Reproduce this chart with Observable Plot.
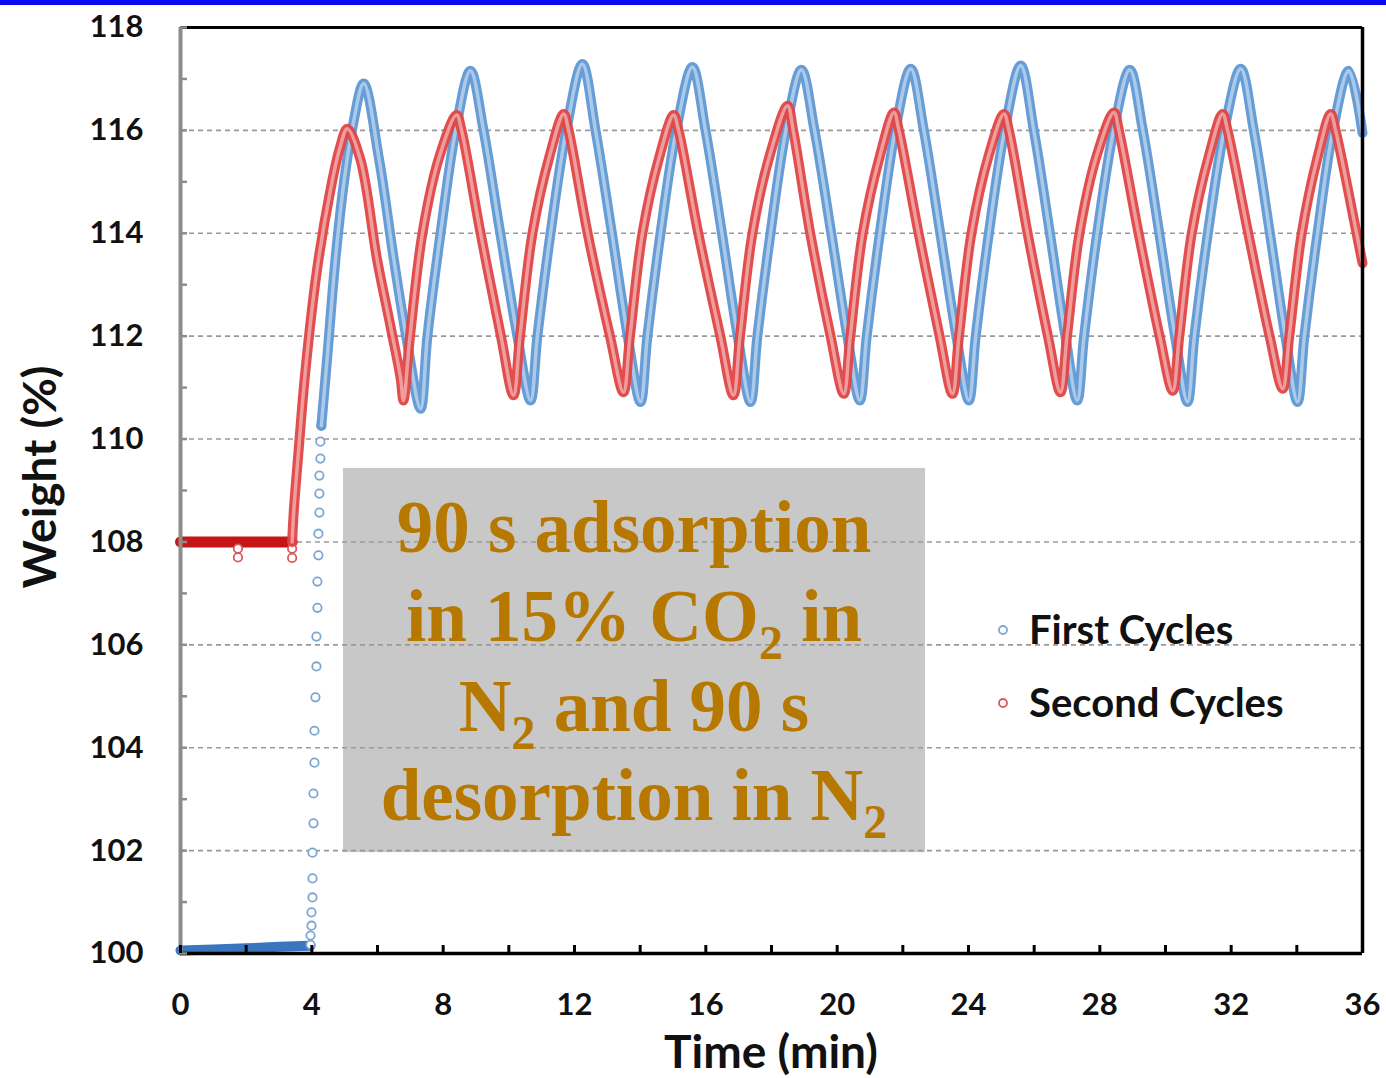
<!DOCTYPE html>
<html><head><meta charset="utf-8">
<script src="https://cdn.jsdelivr.net/npm/d3@7"></script>
<script src="https://cdn.jsdelivr.net/npm/@observablehq/plot@0.6"></script>
<style>
html,body{margin:0;padding:0;background:#fff;}
#wrap{position:relative;width:1386px;height:1078px;overflow:hidden;}
#wrap svg{position:absolute;left:0;top:0;}
#bar{position:absolute;left:0;top:0;width:1386px;height:5px;background:#0a0af0;z-index:2;}
</style></head>
<body><div id="wrap"><div id="bar"></div></div>
<script>
// ---------- data ----------
const seriesNames = ["First Cycles", "Second Cycles"];
const xTicks = [0, 4, 8, 12, 16, 20, 24, 28, 32, 36];
const yTicks = [100, 102, 104, 106, 108, 110, 112, 114, 116, 118];

// First Cycles (blue): initial baseline
const firstFlatT = [0, 1, 2, 3, 3.96];
const firstFlatW = [100.06, 100.08, 100.10, 100.13, 100.15];
// First Cycles: sparse points of the initial jump
const firstJumpT = [3.96,3.96,3.99,3.99,4.02,4.02,4.02,4.05,4.05,4.08,4.08,4.11,4.14,4.14,4.17,4.17,4.20,4.20,4.23,4.23,4.23,4.26,4.26,4.29];
const firstJumpW = [100.17,100.35,100.54,100.80,101.09,101.46,101.96,102.53,103.11,103.71,104.33,104.98,105.58,106.16,106.72,107.23,107.74,108.16,108.57,108.94,109.29,109.62,109.95,110.26];
// First Cycles: cycling part
const firstCycT = [4.29,4.47,4.72,4.98,5.25,5.58,6.05,6.50,6.91,7.31,
  7.52,7.92,8.38,8.83,9.23,9.74,10.26,10.66,
  10.87,11.27,11.75,12.24,12.64,13.14,13.62,14.01,
  14.22,14.62,15.10,15.59,15.99,16.49,16.97,17.36,
  17.57,17.97,18.44,18.91,19.31,19.82,20.31,20.69,
  20.90,21.30,21.77,22.24,22.64,23.14,23.63,24.01,
  24.22,24.62,25.10,25.59,25.99,26.48,26.95,27.31,
  27.52,27.92,28.42,28.91,29.31,29.81,30.29,30.67,
  30.88,31.29,31.79,32.29,32.69,33.18,33.65,34.02,
  34.23,34.63,35.10,35.58,36.00];
const firstCycW = [110.26,111.60,113.50,115.00,116.10,116.91,115.43,113.48,111.86,110.59,
  112.00,114.00,116.00,117.16,116.00,114.00,112.00,110.75,
  112.00,114.00,116.00,117.29,116.00,114.00,112.00,110.72,
  112.00,114.00,116.00,117.23,116.00,114.00,112.00,110.72,
  112.00,114.00,116.00,117.18,116.00,114.00,112.00,110.75,
  112.00,114.00,116.00,117.20,116.00,114.00,112.00,110.75,
  112.00,114.00,116.00,117.26,116.00,114.00,112.00,110.75,
  112.00,114.00,116.00,117.18,116.00,114.00,112.00,110.72,
  112.00,114.00,116.00,117.20,116.00,114.00,112.00,110.72,
  112.00,114.00,116.00,117.16,115.95];

// Second Cycles (red): initial plateau and a few stray points
const secondFlatT = [0, 3.40];
const secondFlatW = [108.00, 108.00];
const secondStrayT = [1.75, 1.75, 3.40, 3.40];
const secondStrayW = [107.87, 107.70, 107.87, 107.69];
// Second Cycles: cycling part
const secondCycT = [3.40,3.45,3.60,3.80,4.16,4.57,4.85,5.08,5.48,5.99,6.40,6.70,6.79,
  6.99,7.37,7.89,8.41,8.56,9.14,9.76,10.14,
  10.34,10.72,11.24,11.67,11.82,12.40,13.08,13.49,
  13.69,14.07,14.59,15.02,15.17,15.77,16.44,16.84,
  17.04,17.42,17.94,18.49,18.66,19.18,19.80,20.20,
  20.40,20.78,21.30,21.73,21.88,22.48,23.12,23.51,
  23.71,24.09,24.61,25.08,25.23,25.80,26.42,26.80,
  27.00,27.38,27.90,28.43,28.58,29.18,29.82,30.22,
  30.42,30.80,31.32,31.74,31.89,32.52,33.17,33.57,
  33.77,34.15,34.64,35.03,35.18,35.82,36.00];
const secondCycW = [108.00,108.60,109.80,111.30,113.30,114.85,115.65,116.03,115.43,113.48,112.18,111.20,110.75,
  112.00,114.00,115.50,116.30,116.00,114.00,112.00,110.85,
  112.00,114.00,115.50,116.32,116.00,114.00,112.00,110.91,
  112.00,114.00,115.50,116.30,116.00,114.00,112.00,110.85,
  112.00,114.00,115.50,116.48,116.00,114.00,112.00,110.88,
  112.00,114.00,115.50,116.35,116.00,114.00,112.00,110.88,
  112.00,114.00,115.50,116.32,116.00,114.00,112.00,110.91,
  112.00,114.00,115.50,116.35,116.00,114.00,112.00,110.94,
  112.00,114.00,115.50,116.32,116.00,114.00,112.00,110.98,
  112.00,114.00,115.50,116.32,116.00,114.00,113.42];

const noteLines = [
  [["90 s adsorption", false]],
  [["in 15% CO", false], ["2", true], [" in", false]],
  [["N", false], ["2", true], [" and 90 s", false]],
  [["desorption in N", false], ["2", true]]
];

// ---------- build tables ----------
const zip = (T, W) => T.map((t, i) => ({t, w: W[i]}));
const firstFlat = zip(firstFlatT, firstFlatW);
const firstJump = zip(firstJumpT, firstJumpW);
const firstCyc = zip(firstCycT, firstCycW);
const secondFlat = zip(secondFlatT, secondFlatW);
const secondStray = zip(secondStrayT, secondStrayW);
const secondCyc = zip(secondCycT, secondCycW);

const BLUE = "#5f98d4", BLUE_DARK = "#3a76bd", BLUE_DOT = "#7ea6d2";
const RED = "#e04545", RED_DARK = "#c51515", RED_DOT = "#d85a5a";
const noteExtent = {x1: 4.965, x2: 22.69, y1: 101.96, y2: 109.43};

const ribbon = (data, color) => [
  Plot.line(data, {x: "t", y: "w", curve: "catmull-rom", stroke: color, strokeWidth: 10, strokeOpacity: 0.95}),
  Plot.line(data, {x: "t", y: "w", curve: "catmull-rom", stroke: "#ffffff", strokeWidth: 3.5, strokeOpacity: 0.45})
];

const chart = Plot.plot({
  width: 1386, height: 1078,
  marginLeft: 180, marginRight: 24, marginTop: 27, marginBottom: 125,
  x: {domain: [0, 36]},
  y: {domain: [100, 118]},
  style: {fontFamily: "Lato, 'Open Sans', sans-serif", background: "transparent", overflow: "visible"},
  marks: [
    Plot.rect([noteExtent], {x1: "x1", x2: "x2", y1: "y1", y2: "y2", fill: "#c8c8c8"}),
    Plot.gridY(yTicks.filter(v => v > 100 && v < 118), {stroke: "#9a9a9a", strokeOpacity: 1, strokeWidth: 1.6, strokeDasharray: "5,4"}),
    // first cycles
    Plot.line(firstFlat, {x: "t", y: "w", stroke: BLUE_DARK, strokeWidth: 10, strokeLinecap: "round"}),
    Plot.dot(firstJump, {x: "t", y: "w", r: 4.2, stroke: BLUE_DOT, strokeWidth: 1.8, fill: "white"}),
    ...ribbon(firstCyc, BLUE),
    // second cycles
    Plot.line(secondFlat, {x: "t", y: "w", stroke: RED_DARK, strokeWidth: 11, strokeLinecap: "round"}),
    Plot.dot(secondStray, {x: "t", y: "w", r: 4.2, stroke: RED_DOT, strokeWidth: 1.8, fill: "white"}),
    ...ribbon(secondCyc, RED),
    // frame
    Plot.ruleY([118], {stroke: "#000", strokeWidth: 3}),
    Plot.ruleX([36], {stroke: "#000", strokeWidth: 3.5}),
    Plot.ruleY([100], {stroke: "#000", strokeWidth: 3.5}),
    Plot.ruleX([0], {stroke: "#8c8c8c", strokeWidth: 4}),
    // inner ticks
    Plot.axisY(d3.range(100, 119, 1), {anchor: "left", tickSize: -7, tickFormat: () => "", stroke: "#8c8c8c", strokeWidth: 2.5, label: null}),
    Plot.axisX(d3.range(0, 37, 2), {anchor: "bottom", tickSize: -8, tickFormat: () => "", stroke: "#000", strokeWidth: 3, label: null}),
    // tick labels
    Plot.axisY(yTicks, {anchor: "left", tickSize: 0, tickPadding: 37, tickFormat: d => String(d), fontSize: 31, fontWeight: "bold", fill: "#111", label: null}),
    Plot.axisX(xTicks, {anchor: "bottom", tickSize: 0, tickPadding: 39, tickFormat: d => String(d), fontSize: 31, fontWeight: "bold", fill: "#111", label: null})
  ]
});

document.getElementById("wrap").appendChild(chart);

// ---------- annotation, legend and axis titles ----------
const svg = d3.select(chart);
const xs = chart.scale("x"), ys = chart.scale("y");
const noteCx = (xs.apply(noteExtent.x1) + xs.apply(noteExtent.x2)) / 2;
const noteTop = ys.apply(noteExtent.y2);
const ng = svg.append("g")
  .attr("font-family", "'Liberation Serif','Times New Roman',serif")
  .attr("font-weight", "bold").attr("fill", "#b77800")
  .attr("font-size", 73).attr("text-anchor", "middle");
noteLines.forEach((segs, i) => {
  const t = ng.append("text").attr("x", noteCx).attr("y", noteTop + 84 + i * 89.5);
  let shifted = false;
  segs.forEach(([s, sub]) => {
    const ts = t.append("tspan").text(s);
    if (sub) { ts.attr("font-size", 48).attr("dy", 18); shifted = true; }
    else if (shifted) { ts.attr("dy", -18); shifted = false; }
  });
});

const lg = svg.append("g").attr("font-family", "Lato, 'Open Sans', sans-serif").attr("font-weight", "bold")
  .attr("font-size", 40).attr("fill", "#111").attr("text-anchor", "start");
[[BLUE_DOT, 630], [RED_DOT, 703]].forEach(([c, y], i) => {
  lg.append("circle").attr("cx", 1003).attr("cy", y).attr("r", 4).attr("fill", "white").attr("stroke", c).attr("stroke-width", 1.8);
  lg.append("text").attr("x", 1029).attr("y", y + 14).text(seriesNames[i]);
});

svg.append("text").attr("x", 771).attr("y", 1068).attr("text-anchor", "middle")
  .attr("font-family", "Lato, 'Open Sans', sans-serif").attr("font-weight", "bold").attr("font-size", 46).attr("fill", "#111")
  .text("Time (min)");
svg.append("text").attr("transform", "translate(56,477) rotate(-90)").attr("text-anchor", "middle")
  .attr("font-family", "Lato, 'Open Sans', sans-serif").attr("font-weight", "bold").attr("font-size", 46).attr("fill", "#111")
  .text("Weight (%)");
</script>
</body></html>
